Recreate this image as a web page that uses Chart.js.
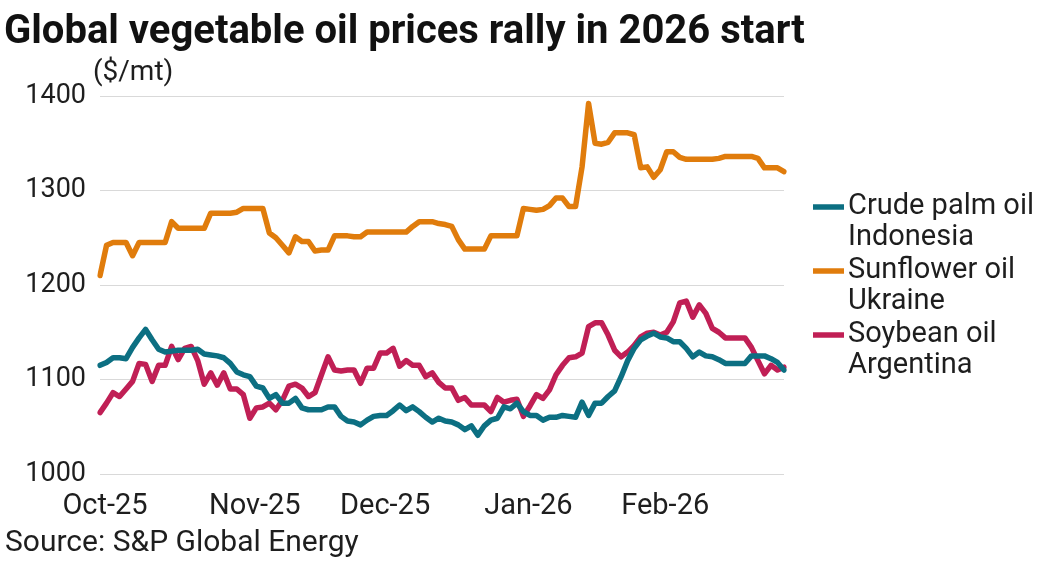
<!DOCTYPE html>
<html>
<head>
<meta charset="utf-8">
<script src="https://cdn.jsdelivr.net/npm/chart.js@4.4.1/dist/chart.umd.min.js"></script>
<style>
  body { margin: 0; background: #fff; }
  #wrap { width: 1040px; height: 564px; }
</style>
</head>
<body>
<div id="wrap"><canvas id="chart"></canvas></div>
<script>
// trading days Oct 1 2025 - Feb 27 2026, holidays skipped
const monthKeys = ['2025-10', '2025-11', '2025-12', '2026-01', '2026-02'];
const monthLabels = ['Oct-25', 'Nov-25', 'Dec-25', 'Jan-26', 'Feb-26'];
const holidays = ['2025-12-25', '2026-01-01'];

const seriesNames = [
  ['Crude palm oil', 'Indonesia'],
  ['Sunflower oil', 'Ukraine'],
  ['Soybean oil', 'Argentina']
];
const seriesColors = ['#0c6f82', '#e07c0c', '#c01f55'];

const palmOil = [
  1115, 1118, 1123, 1123, 1122, 1134, 1144, 1153, 1142, 1132,
  1129, 1130, 1131, 1131, 1131, 1132, 1127, 1126, 1125, 1123,
  1117, 1108, 1105, 1103, 1093, 1091, 1080, 1084, 1075, 1075,
  1080, 1070, 1068, 1068, 1068, 1071, 1071, 1061, 1056, 1055,
  1052, 1057, 1061, 1062, 1062, 1067, 1073, 1067, 1071, 1066,
  1060, 1055, 1059, 1056, 1055, 1052, 1047, 1051, 1041, 1051,
  1057, 1059, 1071, 1069, 1075, 1066, 1062, 1062, 1057, 1060,
  1060, 1062, 1061, 1060, 1076, 1062, 1075, 1075, 1082, 1088,
  1103, 1120, 1133, 1142, 1146, 1149, 1145, 1144, 1140, 1140,
  1133, 1124, 1129, 1125, 1124, 1121, 1117, 1117, 1117, 1117,
  1125, 1125, 1125, 1122, 1118, 1110
];
const sunflowerOil = [
  1210, 1242, 1245, 1245, 1245, 1231, 1245, 1245, 1245, 1245,
  1245, 1267, 1260, 1260, 1260, 1260, 1260, 1276, 1276, 1276,
  1276, 1277, 1281, 1281, 1281, 1281, 1255, 1250, 1242, 1234,
  1251, 1246, 1246, 1236, 1237, 1237, 1252, 1252, 1252, 1251,
  1251, 1256, 1256, 1256, 1256, 1256, 1256, 1256, 1262, 1267,
  1267, 1267, 1265, 1264, 1262, 1248, 1238, 1238, 1238, 1238,
  1252, 1252, 1252, 1252, 1252, 1281, 1280, 1279, 1280, 1284,
  1292, 1292, 1283, 1283, 1325, 1392, 1350, 1349, 1351, 1361,
  1361, 1361, 1359, 1324, 1325, 1314, 1322, 1341, 1341, 1335,
  1333, 1333, 1333, 1333, 1333, 1334, 1336, 1336, 1336, 1336,
  1336, 1334, 1324, 1324, 1324, 1320
];
const soybeanOil = [
  1065, 1075, 1086, 1082, 1090, 1098, 1117, 1116, 1098, 1115,
  1115, 1135, 1121, 1133, 1135, 1120, 1095, 1107, 1094, 1107,
  1090, 1090, 1084, 1059, 1070, 1071, 1075, 1068, 1078, 1093,
  1095, 1091, 1082, 1086, 1105, 1124, 1110, 1109, 1110, 1110,
  1096, 1112, 1112, 1128, 1128, 1133, 1114, 1120, 1115, 1115,
  1103, 1107, 1097, 1091, 1091, 1078, 1081, 1073, 1073, 1073,
  1066, 1081, 1076, 1078, 1079, 1061, 1072, 1084, 1080, 1089,
  1105, 1115, 1123, 1124, 1128, 1156, 1160, 1160, 1147, 1131,
  1124, 1129, 1136, 1145, 1149, 1150, 1147, 1150, 1161, 1181,
  1183, 1166, 1179, 1170, 1154, 1150, 1144, 1144, 1144, 1144,
  1134, 1120, 1106, 1115, 1110, 1113
];

const days = [];
for (let d = new Date(Date.UTC(2025, 9, 1)); d <= new Date(Date.UTC(2026, 1, 27)); d.setUTCDate(d.getUTCDate() + 1)) {
  const iso = d.toISOString().slice(0, 10);
  const wd = d.getUTCDay();
  if (wd === 0 || wd === 6 || holidays.includes(iso)) continue;
  days.push(iso);
}

const FONT = 'Roboto, "Liberation Sans", sans-serif';

const extras = {
  id: 'extras',
  afterDraw(chart) {
    const ctx = chart.ctx;
    const area = chart.chartArea;
    ctx.save();
    ctx.fillStyle = '#111';
    ctx.textBaseline = 'alphabetic';
    ctx.textAlign = 'left';
    ctx.font = 'bold 40px ' + FONT;
    ctx.fillText('Global vegetable oil prices rally in 2026 start', 4, 43);

    ctx.fillStyle = '#1e1e1e';
    ctx.textBaseline = 'middle';
    ctx.font = '28px ' + FONT;
    ctx.fillText('($/mt)', area.left - 7, 73);
    ctx.font = '30px ' + FONT;
    ctx.fillText('Source: S&P Global Energy', 5, 543);

    // legend
    let y = 207;
    seriesNames.forEach((lines, i) => {
      ctx.strokeStyle = seriesColors[i];
      ctx.lineWidth = 5.5;
      ctx.beginPath();
      ctx.moveTo(813, y);
      ctx.lineTo(844, y);
      ctx.stroke();
      ctx.font = '29px ' + FONT;
      lines.forEach((t, k) => ctx.fillText(t, 848, y + k * 31));
      y += 64;
    });
    ctx.restore();
  }
};

new Chart(document.getElementById('chart'), {
  type: 'line',
  data: {
    labels: days,
    datasets: [
      { label: seriesNames[0].join(' '), data: palmOil, borderColor: seriesColors[0] },
      { label: seriesNames[1].join(' '), data: sunflowerOil, borderColor: seriesColors[1] },
      { label: seriesNames[2].join(' '), data: soybeanOil, borderColor: seriesColors[2] }
    ]
  },
  options: {
    responsive: true,
    maintainAspectRatio: false,
    animation: false,
    layout: { padding: { top: 96, right: 256, bottom: 30, left: 0 } },
    elements: {
      point: { radius: 0 },
      line: { borderWidth: 5.5, tension: 0, borderJoinStyle: 'round', borderCapStyle: 'round' }
    },
    plugins: {
      legend: { display: false },
      tooltip: { enabled: false }
    },
    scales: {
      x: {
        grid: { display: false },
        border: { display: false },
        afterFit: s => { s.height = 60; },
        ticks: {
          autoSkip: false,
          maxRotation: 0,
          minRotation: 0,
          padding: 7,
          labelOffset: 5,
          color: '#1e1e1e',
          font: { family: FONT, size: 29 },
          callback: (v, i) => {
            const m = days[i].slice(0, 7);
            if (i > 0 && days[i - 1].slice(0, 7) === m) return '';
            return monthLabels[monthKeys.indexOf(m)];
          }
        }
      },
      y: {
        min: 1000,
        max: 1400,
        afterFit: s => { s.width = 100; },
        grid: { color: '#d9d9d9', lineWidth: 1, drawTicks: false },
        border: { display: false },
        ticks: {
          stepSize: 100,
          padding: 14,
          color: '#1e1e1e',
          font: { family: FONT, size: 27 },
          callback: v => String(v)
        }
      }
    }
  },
  plugins: [extras]
});
</script>
</body>
</html>
